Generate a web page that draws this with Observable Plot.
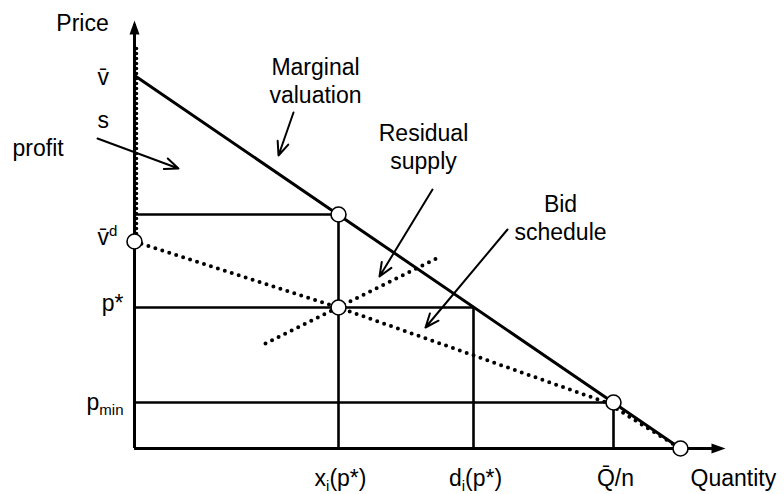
<!DOCTYPE html>
<html><head><meta charset="utf-8">
<script src="https://cdn.jsdelivr.net/npm/d3@7"></script>
<script src="https://cdn.jsdelivr.net/npm/@observablehq/plot@0.6"></script>
<style>
html,body{margin:0;padding:0;background:#fff;}
svg{display:block;}
</style>
</head><body><div id="chart"></div>
<script>
// ---- chart values (abstract quantity / price units) ----
const quantityEnd = 587;   // length of the quantity axis
const priceTop = 424;      // length of the price axis
const vBar = 373;          // v̄ : intercept of the marginal valuation
const vBarD = 207;         // v̄^d : intercept of the bid schedule
const pAtXi = 234;         // marginal valuation at x_i(p*)
const pStar = 141;         // p*
const pMin = 46;           // p_min
const xiStar = 204;        // x_i(p*)
const diStar = 339;        // d_i(p*)
const qBarN = 479;         // Q̄/n
const qMax = 546;          // marginal valuation reaches zero

const marginalValuation = [{q: 0, p: vBar}, {q: qMax, p: 0}];
const bidSchedule = [{q: 0, p: 400}, {q: 0, p: vBarD}, {q: xiStar, p: pStar}, {q: 472, p: 46}, {q: qMax, p: 0}];
const residualSupply = [{q: 131, p: 105}, {q: 304, p: 191}];

const horizontalGuides = [{p: pAtXi, q: xiStar}, {p: pStar, q: diStar}, {p: pMin, q: qBarN}];
const verticalGuides = [{q: xiStar, p: pAtXi}, {q: diStar, p: pStar}, {q: qBarN, p: pMin}];
const markedPoints = [
  {q: xiStar, p: pAtXi}, {q: xiStar, p: pStar}, {q: 0, p: vBarD}, {q: qBarN, p: pMin}, {q: qMax, p: 0}
];

const quantityTicks = [
  {label: "x_i(p*)", q: xiStar},
  {label: "d_i(p*)", q: diStar},
  {label: "Q\u0304/n", q: qBarN}
];

const pointers = [
  {name: "profit", q1: -37, p1: 310, q2: 44, p2: 280},
  {name: "Marginal valuation", q1: 159, p1: 336, q2: 144, p2: 293},
  {name: "Residual supply", q1: 298, p1: 259, q2: 245, p2: 172},
  {name: "Bid schedule", q1: 373, p1: 219, q2: 291, p2: 121}
];

const notes = [
  {text: "Marginal\nvaluation", q: 181, p: 346},
  {text: "Residual\nsupply", q: 289, p: 280},
  {text: "Bid\nschedule", q: 426, p: 209}
];
const leftNotes = [
  {text: "s", q: -37, p: 321},
  {text: "profit", q: -122, p: 293}
];

// ---- drawing ----
const font = "Liberation Sans, Arial, Helvetica, sans-serif";
const fs = 23;
const arrowHead = {
  draw(ctx) { ctx.moveTo(0, 0); ctx.lineTo(5, 14); ctx.lineTo(-5, 14); ctx.closePath(); }
};
const dotted = {stroke: "black", strokeWidth: 4, strokeLinecap: "round", strokeDasharray: "0 7.3"};

const chart = Plot.plot({
  width: 784, height: 494,
  marginLeft: 134, marginRight: 59, marginTop: 20, marginBottom: 46,
  x: {domain: [0, 591], axis: null},
  y: {domain: [0, 428], axis: null},
  style: {fontFamily: font, background: "white"},
  marks: [
    // guides
    Plot.ruleY(horizontalGuides, {y: "p", x1: 0, x2: "q", stroke: "black", strokeWidth: 2.6}),
    Plot.ruleX(verticalGuides, {x: "q", y1: 0, y2: "p", stroke: "black", strokeWidth: 2.6}),
    // axes
    Plot.ruleY([0], {x1: 0, x2: quantityEnd, stroke: "black", strokeWidth: 3}),
    Plot.ruleX([0], {y1: 0, y2: priceTop, stroke: "black", strokeWidth: 3}),
    Plot.dot([{q: quantityEnd, p: 0}], {x: "q", y: "p", symbol: arrowHead, rotate: 90, dx: 4, fill: "black", stroke: "none"}),
    Plot.dot([{q: 0, p: priceTop}], {x: "q", y: "p", symbol: arrowHead, dy: -4, fill: "black", stroke: "none"}),
    // curves
    Plot.line(marginalValuation, {x: "q", y: "p", stroke: "black", strokeWidth: 3}),
    Plot.line(bidSchedule.slice(0, 2), {x: "q", y: "p", ...dotted, strokeWidth: 3.6, strokeDasharray: "0 5", dx: 2}),
    Plot.line(bidSchedule.slice(1), {x: "q", y: "p", ...dotted}),
    Plot.line(residualSupply, {x: "q", y: "p", ...dotted}),
    // pointers
    Plot.arrow(pointers, {x1: "q1", y1: "p1", x2: "q2", y2: "p2", stroke: "black", strokeWidth: 2, headLength: 11, headAngle: 45}),
    // points
    Plot.dot(markedPoints, {x: "q", y: "p", r: 7.5, fill: "white", stroke: "black", strokeWidth: 1.6}),
    // labels
    Plot.text(["Price"], {x: -52, y: 418, text: d => d, fontSize: fs, lineAnchor: "bottom", fill: "black"}),
    Plot.text(["Quantity"], {x: 556, y: -37, text: d => d, fontSize: fs, lineAnchor: "bottom", textAnchor: "start", fill: "black"}),
    Plot.text(quantityTicks, {x: "q", y: 0, text: "label", dy: 37, dx: 2, fontSize: fs, lineAnchor: "bottom", fill: "black"}),
    Plot.text(["v\u0304"], {x: 0, y: vBar, text: d => d, dx: -37, dy: 9, textAnchor: "start", fontSize: fs, lineAnchor: "bottom", fill: "black"}),
    Plot.text(["v\u0304^d"], {x: 0, y: vBarD, text: d => d, dx: -37, dy: 3, textAnchor: "start", fontSize: fs, lineAnchor: "bottom", fill: "black"}),
    Plot.text(["p*"], {x: 0, y: pStar, text: d => d, dx: -11, dy: 3, textAnchor: "end", fontSize: fs, lineAnchor: "bottom", fill: "black"}),
    Plot.text(["p_min"], {x: 0, y: pMin, text: d => d, dx: -11, dy: 7, textAnchor: "end", fontSize: fs, lineAnchor: "bottom", fill: "black"}),
    Plot.text(notes, {x: "q", y: "p", text: "text", fontSize: fs, lineAnchor: "bottom", lineHeight: 1.2, fill: "black"}),
    Plot.text(leftNotes, {x: "q", y: "p", text: "text", fontSize: fs, lineAnchor: "bottom", textAnchor: "start", fill: "black"})
  ]
});

// turn _x / ^x markup into sub/superscripts
const ns = "http://www.w3.org/2000/svg";
chart.querySelectorAll("text").forEach(t => {
  if (t.querySelector("tspan")) return;
  const m = t.textContent.match(/^(.*?)([_^])([a-z]+)(.*)$/);
  if (!m) return;
  t.textContent = "";
  const shift = m[2] === "_" ? 5 : -9;
  const a = document.createElementNS(ns, "tspan"); a.textContent = m[1]; t.appendChild(a);
  const b = document.createElementNS(ns, "tspan"); b.textContent = m[3];
  b.setAttribute("font-size", "15"); b.setAttribute("dy", shift); t.appendChild(b);
  if (m[4]) {
    const c = document.createElementNS(ns, "tspan"); c.textContent = m[4];
    c.setAttribute("dy", -shift); t.appendChild(c);
  }
});
document.getElementById("chart").appendChild(chart);
</script>
</body></html>
